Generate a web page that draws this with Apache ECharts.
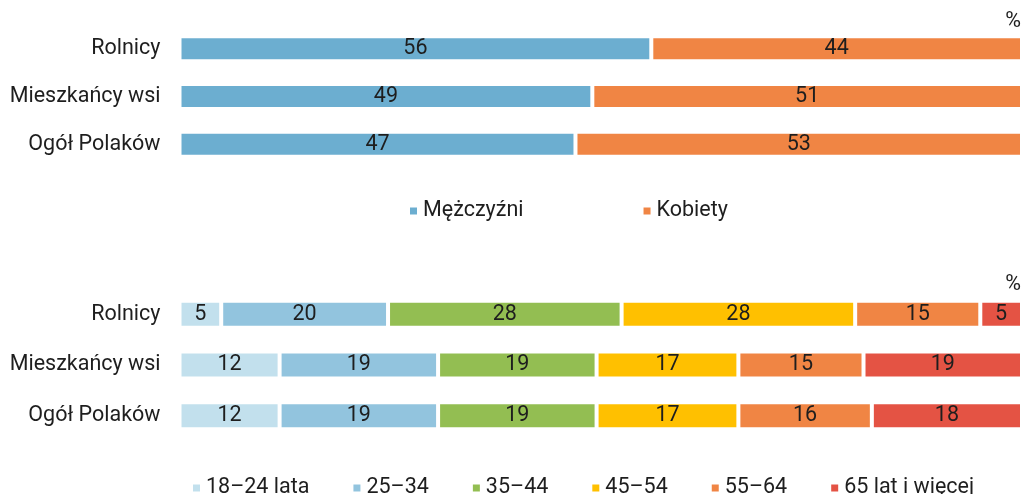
<!DOCTYPE html>
<html>
<head>
<meta charset="utf-8">
<script src="https://cdn.jsdelivr.net/npm/echarts@6/dist/echarts.min.js"></script>
<style>
  html, body { margin: 0; padding: 0; background: #fff; }
  #chart { width: 1022px; height: 494px; }
</style>
</head>
<body>
<div id="chart"></div>
<script>
// kategorie (wiersze)
var categories = ['Rolnicy', 'Mieszkańcy wsi', 'Ogół Polaków'];

// płeć
var genderNames = ['Mężczyźni', 'Kobiety'];
var men = [56, 49, 47];
var women = [44, 51, 53];

// wiek
var ageNames = ['18–24 lata', '25–34', '35–44', '45–54', '55–64', '65 lat i więcej'];
var age18_24 = [5, 12, 12];
var age25_34 = [20, 19, 19];
var age35_44 = [28, 19, 19];
var age45_54 = [28, 17, 17];
var age55_64 = [15, 15, 16];
var age65 = [5, 19, 18];

var genderColors = ['#6CAED0', '#F08544'];
var ageColors = ['#C2E0ED', '#92C4DE', '#93BE52', '#FFC000', '#F08544', '#E45344'];

var font = 'Roboto, "Noto Sans", sans-serif';
var fontSize = 21.5;
var textColor = '#1e1e1e';

var genderData = [men, women];
var ageData = [age18_24, age25_34, age35_44, age45_54, age55_64, age65];

// wiersze w dolnym wykresie sumują się do 101 (zaokrąglenia), skala = największa suma
function rowMax(groups) {
  var m = 0;
  for (var i = 0; i < categories.length; i++) {
    var s = 0;
    groups.forEach(function (g) { s += g[i]; });
    m = Math.max(m, s);
  }
  return m;
}

function makeSeries(names, groups, colors, axisIndex, stack, barWidth) {
  return names.map(function (name, i) {
    return {
      name: name,
      type: 'bar',
      stack: stack,
      xAxisIndex: axisIndex,
      yAxisIndex: axisIndex,
      barWidth: barWidth,
      data: groups[i],
      itemStyle: { color: colors[i], borderColor: '#fff', borderWidth: 2 },
      label: {
        show: true,
        position: 'inside',
        color: textColor,
        fontFamily: font,
        fontSize: fontSize
      },
      emphasis: { disabled: true }
    };
  });
}

function catAxis(gridIndex) {
  return {
    type: 'category',
    gridIndex: gridIndex,
    data: categories,
    inverse: true,
    axisLine: { show: false },
    axisTick: { show: false },
    axisLabel: { color: textColor, fontFamily: font, fontSize: fontSize, margin: 19 }
  };
}

function valAxis(gridIndex, max) {
  return {
    type: 'value',
    gridIndex: gridIndex,
    min: 0,
    max: max,
    show: false,
    splitLine: { show: false }
  };
}

var titleStyle = { fontSize: fontSize, fontWeight: 'normal', color: textColor, fontFamily: font };

var chart = echarts.init(document.getElementById('chart'));
chart.setOption({
  animation: false,
  textStyle: { fontFamily: font },
  title: [
    { text: '%', right: 1, top: 11, padding: 0, textStyle: titleStyle },
    { text: '%', right: 1, top: 274, padding: 0, textStyle: titleStyle }
  ],
  grid: [
    { left: 179.5, right: 0, top: 25, height: 143 },
    { left: 179.5, right: 0, top: 289, height: 152 }
  ],
  xAxis: [valAxis(0, rowMax(genderData)), valAxis(1, rowMax(ageData))],
  yAxis: [catAxis(0), catAxis(1)],
  legend: [
    {
      data: genderNames,
      top: 195,
      left: 403,
      itemWidth: 9,
      itemHeight: 9,
      itemGap: 118,
      icon: 'rect',
      textStyle: { fontSize: fontSize, color: textColor, fontFamily: font }
    },
    {
      data: ageNames,
      top: 472,
      left: 186,
      itemWidth: 9,
      itemHeight: 9,
      itemGap: 42,
      icon: 'rect',
      textStyle: { fontSize: fontSize, color: textColor, fontFamily: font }
    }
  ],
  series: makeSeries(genderNames, genderData, genderColors, 0, 'plec', 25)
    .concat(makeSeries(ageNames, ageData, ageColors, 1, 'wiek', 27))
});
</script>
</body>
</html>
